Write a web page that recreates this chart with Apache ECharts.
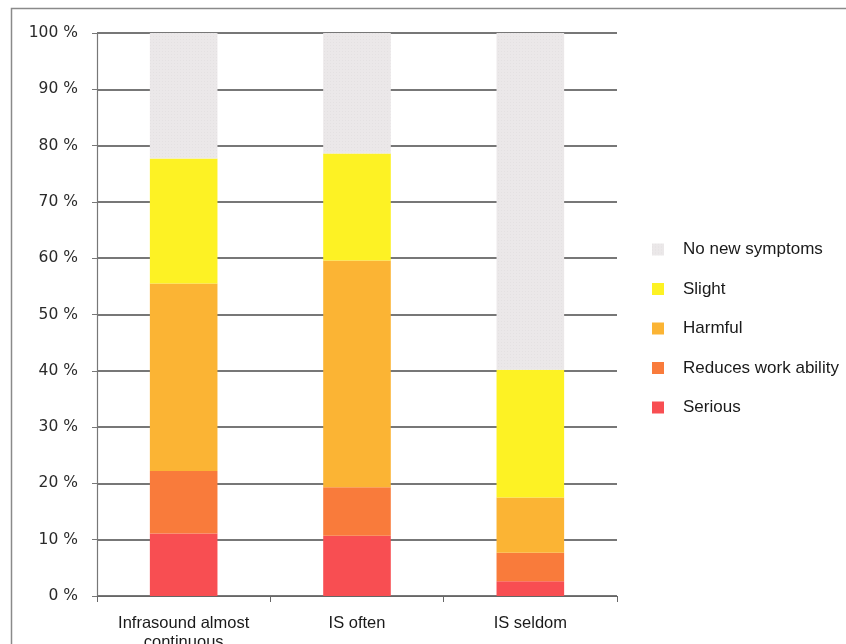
<!DOCTYPE html>
<html>
<head>
<meta charset="utf-8">
<script src="https://cdn.jsdelivr.net/npm/echarts@6/dist/echarts.min.js"></script>
<style>
  html, body { margin: 0; padding: 0; background: #fff; }
  #chart { width: 846px; height: 644px; }
</style>
</head>
<body>
<div id="chart"></div>
<script>
// Share of respondents by symptom severity, per exposure frequency (%)
const categories = ['Infrasound almost\ncontinuous', 'IS often', 'IS seldom'];
const serious = [11.1, 10.7, 2.6];
const reducesWorkAbility = [11.1, 8.6, 5.1];
const harmful = [33.3, 40.3, 9.8];
const slight = [22.2, 19.0, 22.7];
const noNewSymptoms = [22.3, 21.4, 59.8];
const yTicks = [0, 10, 20, 30, 40, 50, 60, 70, 80, 90, 100];

const seriesDefs = [
  { name: 'Serious', data: serious, color: '#f84e52' },
  { name: 'Reduces work ability', data: reducesWorkAbility, color: '#f97b3b' },
  { name: 'Harmful', data: harmful, color: '#fbb434' },
  { name: 'Slight', data: slight, color: '#fdf224' },
  { name: 'No new symptoms', data: noNewSymptoms, color: '#ebe8e9',
    decal: { symbol: 'rect', symbolSize: 0.6, color: 'rgba(170,165,165,0.35)',
             dashArrayX: [1, 2], dashArrayY: [1, 2], rotation: 0 } }
];

const chart = echarts.init(document.getElementById('chart'), null, { renderer: 'canvas' });

chart.setOption({
  animation: false,
  backgroundColor: '#fff',
  graphic: [{
    type: 'rect',
    left: 9, top: 6,
    shape: { width: 900, height: 700 },
    style: { fill: 'none', stroke: '#8a8a8a', lineWidth: 1.5 },
    silent: true, z: -1
  }],
  grid: { left: 97, right: 229, top: 33, bottom: 48, containLabel: false, outerBoundsMode: 'none' },
  legend: {
    orient: 'vertical',
    left: 647, top: 236,
    itemWidth: 12, itemHeight: 12, itemGap: 22.5,
    icon: 'rect',
    data: ['No new symptoms', 'Slight', 'Harmful', 'Reduces work ability', 'Serious'],
    textStyle: { fontFamily: 'Liberation Sans, Arial, sans-serif', fontSize: 17, color: '#1a1a1a', padding: [0, 0, 0, 14] }
  },
  xAxis: {
    type: 'category',
    data: categories,
    axisLine: { lineStyle: { color: '#666', width: 1.2 } },
    axisTick: { show: true, length: 6, lineStyle: { color: '#666' } },
    axisLabel: {
      fontFamily: 'Liberation Sans, Arial, sans-serif', fontSize: 16.5, color: '#1a1a1a',
      margin: 18, lineHeight: 19
    }
  },
  yAxis: {
    type: 'value',
    min: yTicks[0], max: yTicks[yTicks.length - 1], interval: 10,
    axisLine: { show: true, lineStyle: { color: '#777', width: 1.2 } },
    axisTick: { show: true, inside: false, length: 5, lineStyle: { color: '#777' } },
    splitLine: { lineStyle: { color: '#4a4a4a', width: 1.5 } },
    axisLabel: {
      formatter: v => v + ' %',
      fontFamily: 'DejaVu Sans, Verdana, sans-serif', fontSize: 15.5, color: '#2a2a2a',
      margin: 19
    }
  },
  series: seriesDefs.map(s => ({
    name: s.name,
    type: 'bar',
    stack: 'total',
    barWidth: '39%',
    data: s.data,
    itemStyle: s.decal ? { color: s.color, decal: s.decal } : { color: s.color }
  })),
  aria: { enabled: false, decal: { show: true } }
});
</script>
</body>
</html>
